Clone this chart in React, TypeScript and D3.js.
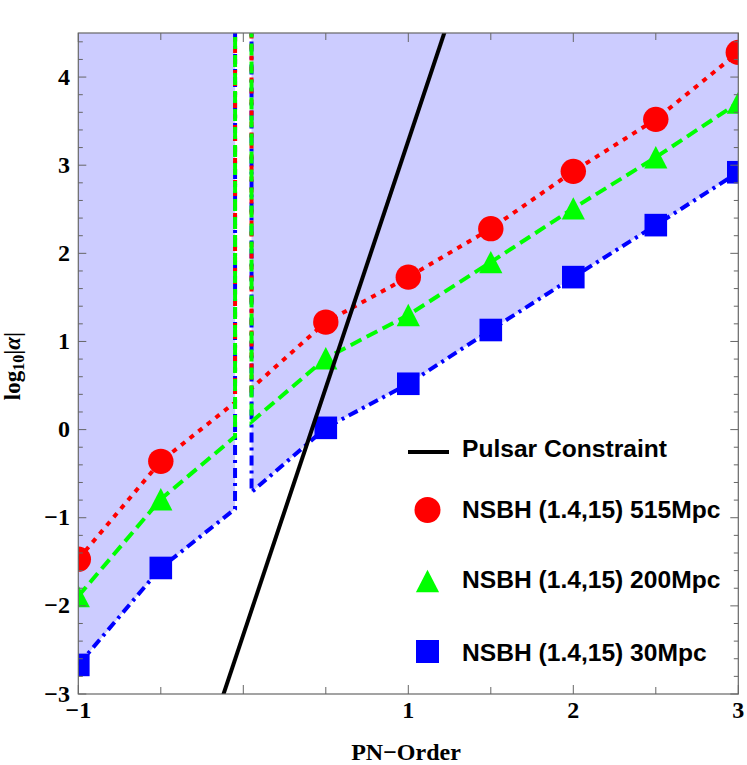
import React from 'react';
import * as d3 from 'd3';

// ---- data ----
const pnOrders = [-1, -0.5, 0.5, 1, 1.5, 2, 2.5, 3];
const nsbh515 = [-1.47, -0.36, 1.22, 1.73, 2.28, 2.93, 3.52, 4.28];
const nsbh200 = [-1.89, -0.79, 0.81, 1.3, 1.9, 2.51, 3.09, 3.71];
const nsbh30 = [-2.67, -1.57, 0.02, 0.52, 1.13, 1.73, 2.32, 2.92];
// behaviour around the pole at PN order 0
const poleOrders = [-0.05, 0, 0.05];
const pole515 = [0.31, 1000, 0.47];
const pole200 = [-0.08, 1000, 0.09];
const pole30 = [-0.9, 1000, -0.71];
// pulsar constraint line
const pulsarOrders = [-0.3, 1.4];
const pulsarLog = [-4.01, 5.52];

const seriesLabels = ['NSBH (1.4,15) 515Mpc', 'NSBH (1.4,15) 200Mpc', 'NSBH (1.4,15) 30Mpc'];
const pulsarLabel = 'Pulsar Constraint';
const xTickLabels = [-1, 1, 2, 3];
const yTickLabels = [-3, -2, -1, 0, 1, 2, 3, 4];

const W = 747;
const H = 765;
const L = 78.3, R = 738.3, T = 33, B = 694;

const fmt = (v: number) => (v < 0 ? '\u2212' + Math.abs(v) : String(v));

function build(vals: number[], pole: number[]) {
  const xs = [...pnOrders.slice(0, 2), ...poleOrders, ...pnOrders.slice(2)];
  const ys = [...vals.slice(0, 2), ...pole, ...vals.slice(2)];
  return xs.map((x, i) => [x, ys[i]] as [number, number]);
}

export default function App() {
  const x = d3.scaleLinear().domain([-1, 3]).range([L, R]);
  const y = d3.scaleLinear().domain([-3, 4.5]).range([B, T]);

  const line = d3.line<[number, number]>().x(d => x(d[0])).y(d => y(d[1]));
  const area = d3
    .area<[number, number]>()
    .x(d => x(d[0]))
    .y0(() => y(4.5))
    .y1(d => y(d[1]));

  const s515 = build(nsbh515, pole515);
  const s200 = build(nsbh200, pole200);
  const s30 = build(nsbh30, pole30);
  const pulsar = pulsarOrders.map((p, i) => [p, pulsarLog[i]] as [number, number]);

  const xTicks = d3.range(-1, 3.0001, 0.5);
  const yTicks = d3.range(-3, 4.5001, 0.2).map(v => Math.round(v * 10) / 10);
  const isInt = (v: number) => Math.abs(v - Math.round(v)) < 1e-6;

  const tickColor = '#666';
  const serif = '"Liberation Serif", "Times New Roman", serif';
  const sans = '"Liberation Sans", Arial, sans-serif';

  const triPath = (cx: number, cy: number) =>
    `M${cx},${cy - 11.2}L${cx + 11.6},${cy + 11.2}L${cx - 11.6},${cy + 11.2}Z`;

  const legendX = 427.5;
  const legendTextX = 462;
  const legendFont = 24.6;

  return (
    <svg width={W} height={H} style={{ position: 'absolute', left: 0, top: 0 }}>
      <defs>
        <clipPath id="plotClip">
          <rect x={L} y={T} width={R - L} height={B - T} />
        </clipPath>
      </defs>
      <rect x={0} y={0} width={W} height={H} fill="white" />
      <g clipPath="url(#plotClip)">
        <path d={area(s30) || ''} fill="#ccccff" stroke="none" />
        <path d={line(s30) || ''} fill="none" stroke="#0000ff" strokeWidth={4} strokeDasharray="10,5,3,5" />
        <path d={line(s515) || ''} fill="none" stroke="#ff0000" strokeWidth={4} strokeDasharray="5,6" />
        <path d={line(s200) || ''} fill="none" stroke="#00ff00" strokeWidth={4} strokeDasharray="12,6" />
        {pnOrders.map((p, i) => (
          <circle key={'c' + i} cx={x(p)} cy={y(nsbh515[i])} r={12.7} fill="#ff0000" />
        ))}
        {pnOrders.map((p, i) => (
          <path key={'t' + i} d={triPath(x(p), y(nsbh200[i]))} fill="#00ff00" />
        ))}
        {pnOrders.map((p, i) => (
          <rect key={'s' + i} x={x(p) - 11.3} y={y(nsbh30[i]) - 11.3} width={22.6} height={22.6} fill="#0000ff" />
        ))}
        <path d={line(pulsar) || ''} fill="none" stroke="black" strokeWidth={4} />
      </g>
      {/* frame */}
      <rect x={L} y={T} width={R - L} height={B - T} fill="none" stroke={tickColor} strokeWidth={1.2} />
      {/* x ticks */}
      {xTicks.map((v, i) => {
        const len = isInt(v) ? 9 : 7;
        return (
          <g key={'xt' + i} stroke={tickColor} strokeWidth={1}>
            <line x1={x(v)} x2={x(v)} y1={B} y2={B - len} />
            <line x1={x(v)} x2={x(v)} y1={T} y2={T + len} />
          </g>
        );
      })}
      {yTicks.map((v, i) => {
        const len = isInt(v) ? 8 : 4.5;
        return (
          <g key={'yt' + i} stroke={tickColor} strokeWidth={1}>
            <line x1={L} x2={L + len} y1={y(v)} y2={y(v)} />
            <line x1={R} x2={R - len} y1={y(v)} y2={y(v)} />
          </g>
        );
      })}
      {xTickLabels.map(v => (
        <text key={'xl' + v} x={x(v)} y={718} textAnchor="middle" fontFamily={serif} fontWeight="bold" fontSize={24}>
          {fmt(v)}
        </text>
      ))}
      {yTickLabels.map(v => (
        <text key={'yl' + v} x={70} y={y(v) + 7.5} textAnchor="end" fontFamily={serif} fontWeight="bold" fontSize={24}>
          {fmt(v)}
        </text>
      ))}
      {/* axis titles */}
      <text x={406} y={760} textAnchor="middle" fontFamily={serif} fontWeight="bold" fontSize={24}>
        PN{'\u2212'}Order
      </text>
      <text
        transform="translate(20,366) rotate(-90)"
        textAnchor="middle"
        fontFamily={serif}
        fontWeight="bold"
        fontSize={23}
      >
        log
        <tspan fontSize={16} dy={4}>10</tspan>
        <tspan dy={-4}>|</tspan>
        <tspan fontStyle="italic">{'\u03b1'}</tspan>
        <tspan>|</tspan>
      </text>
      {/* legend */}
      <line x1={408} x2={449} y1={452} y2={452} stroke="black" strokeWidth={4} />
      <text x={legendTextX} y={457} fontFamily={sans} fontWeight="bold" fontSize={legendFont}>
        {pulsarLabel}
      </text>
      <circle cx={legendX} cy={510} r={13} fill="#ff0000" />
      <text x={legendTextX} y={518} fontFamily={sans} fontWeight="bold" fontSize={legendFont}>
        {seriesLabels[0]}
      </text>
      <path d={triPath(legendX, 581)} fill="#00ff00" />
      <text x={legendTextX} y={587.5} fontFamily={sans} fontWeight="bold" fontSize={legendFont}>
        {seriesLabels[1]}
      </text>
      <rect x={legendX - 11.5} y={651.5 - 11.5} width={23} height={23} fill="#0000ff" />
      <text x={legendTextX} y={661} fontFamily={sans} fontWeight="bold" fontSize={legendFont}>
        {seriesLabels[2]}
      </text>
    </svg>
  );
}
